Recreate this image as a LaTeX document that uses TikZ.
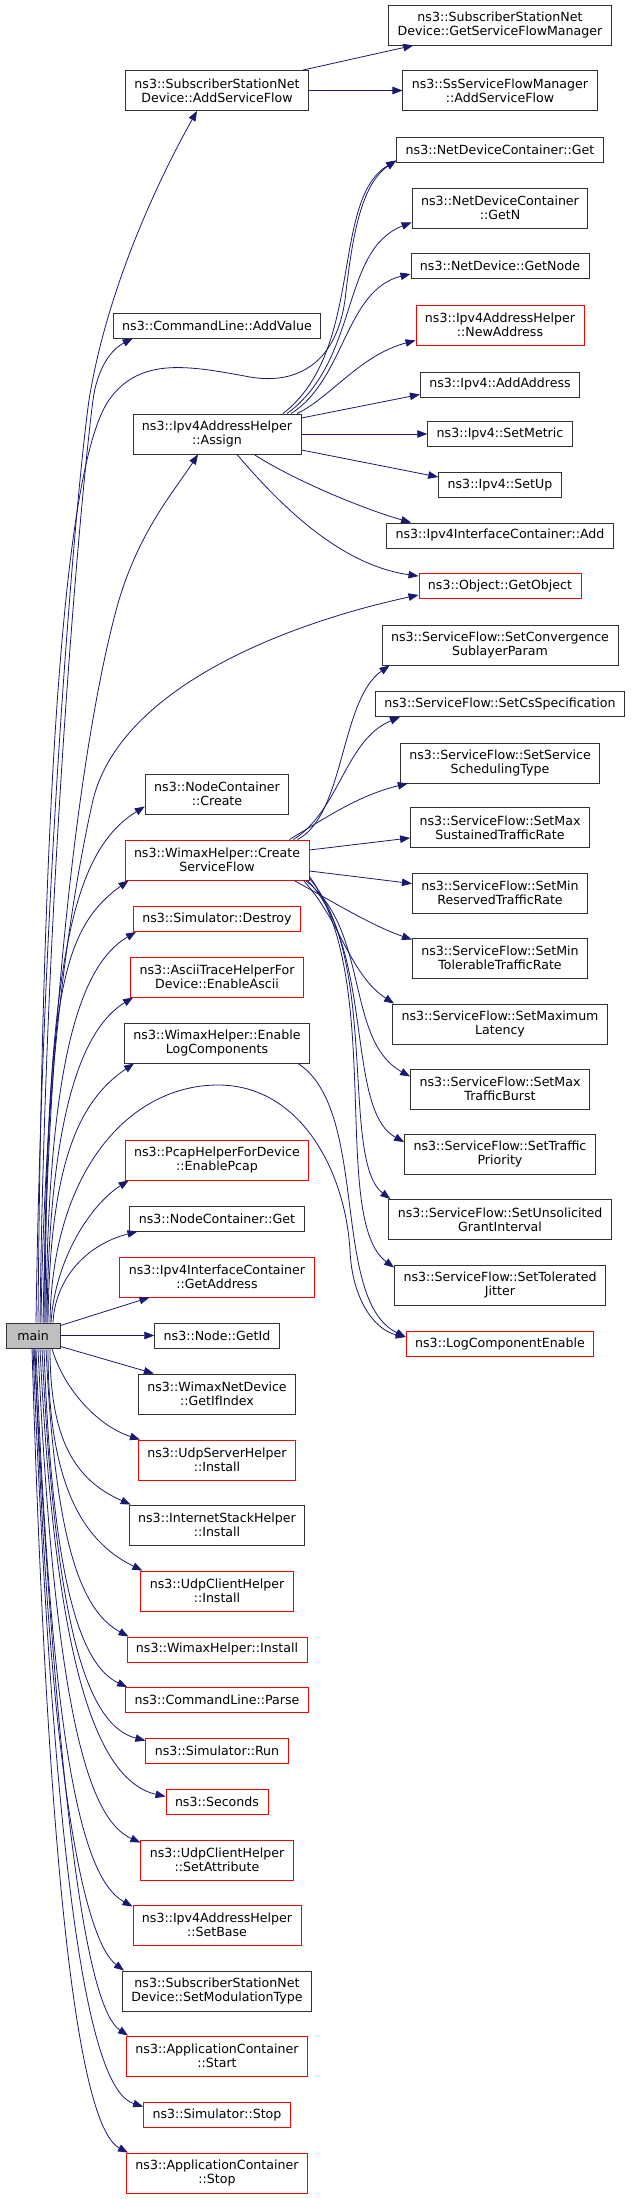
\documentclass[tikz,border=0pt]{standalone}
\usepackage{fontspec}
\newfontfamily\dejavu{DejaVu Sans}
\usetikzlibrary{arrows.meta}
\definecolor{edgeblue}{HTML}{191970}
\newcommand{\fnfont}{\dejavu\fontsize{12.6pt}{14pt}\selectfont}
\tikzset{
  fn/.style={draw=black!80, line width=0.9pt, fill=white, align=center,
    inner xsep=9pt, inner ysep=4pt, minimum height=25pt, font=\fnfont},
  fnred/.style={fn, draw=red},
  twoline/.style={minimum height=40pt},
  call/.style={draw=edgeblue, line width=0.8pt, -{Triangle[length=10pt,width=7.5pt]}},
}
\begin{document}
\begin{tikzpicture}[x=1pt, y=-1pt]
  \useasboundingbox (0,0) rectangle (632,2199);

  % Define nodes
  \node[fn, fill=black!25, minimum width=54pt] (main) at (33,1335.5) {main};

  \node[fn, twoline] (ssadd) at (217,90.5) {ns3::SubscriberStationNet\\Device::AddServiceFlow};
  \node[fn] (addvalue) at (217,325.5) {ns3::CommandLine::AddValue};
  \node[fn, twoline] (assign) at (217,434) {ns3::Ipv4AddressHelper\\::Assign};
  \node[fn, twoline] (nccreate) at (217,794) {ns3::NodeContainer\\::Create};
  \node[fnred, twoline] (createsf) at (217,860) {ns3::WimaxHelper::Create\\ServiceFlow};
  \node[fnred] (destroy) at (217,919) {ns3::Simulator::Destroy};
  \node[fnred, twoline] (ascii) at (217,977) {ns3::AsciiTraceHelperFor\\Device::EnableAscii};
  \node[fn, twoline] (enablelog) at (217,1043) {ns3::WimaxHelper::Enable\\LogComponents};
  \node[fnred, twoline] (pcap) at (217,1160) {ns3::PcapHelperForDevice\\::EnablePcap};
  \node[fn] (ncget) at (217,1218.5) {ns3::NodeContainer::Get};
  \node[fnred, twoline] (getaddr) at (217,1277) {ns3::Ipv4InterfaceContainer\\::GetAddress};
  \node[fn] (getid) at (217,1335.5) {ns3::Node::GetId};
  \node[fn, twoline] (getifindex) at (217,1394) {ns3::WimaxNetDevice\\::GetIfIndex};
  \node[fnred, twoline] (udpserver) at (217,1460) {ns3::UdpServerHelper\\::Install};
  \node[fn, twoline] (inetstack) at (217,1525) {ns3::InternetStackHelper\\::Install};
  \node[fnred, twoline] (udpclient) at (217,1591) {ns3::UdpClientHelper\\::Install};
  \node[fnred] (wimaxinstall) at (217,1649.5) {ns3::WimaxHelper::Install};
  \node[fnred] (parse) at (217,1700) {ns3::CommandLine::Parse};
  \node[fnred] (run) at (217,1750.5) {ns3::Simulator::Run};
  \node[fnred] (seconds) at (217,1801.5) {ns3::Seconds};
  \node[fnred, twoline] (setattr) at (217,1860) {ns3::UdpClientHelper\\::SetAttribute};
  \node[fnred, twoline] (setbase) at (217,1925) {ns3::Ipv4AddressHelper\\::SetBase};
  \node[fn, twoline] (setmod) at (217,1991) {ns3::SubscriberStationNet\\Device::SetModulationType};
  \node[fnred, twoline] (appstart) at (217,2056) {ns3::ApplicationContainer\\::Start};
  \node[fnred] (simstop) at (217,2114.5) {ns3::Simulator::Stop};
  \node[fnred, twoline] (appstop) at (217,2173) {ns3::ApplicationContainer\\::Stop};

  \node[fn, twoline] (gsfm) at (500,25) {ns3::SubscriberStationNet\\Device::GetServiceFlowManager};
  \node[fn, twoline] (ssfm) at (500,90.5) {ns3::SsServiceFlowManager\\::AddServiceFlow};
  \node[fn] (ndcget) at (500,149.5) {ns3::NetDeviceContainer::Get};
  \node[fn, twoline] (ndcgetn) at (500,208) {ns3::NetDeviceContainer\\::GetN};
  \node[fn] (getnode) at (500,266) {ns3::NetDevice::GetNode};
  \node[fnred, twoline] (newaddr) at (500,325) {ns3::Ipv4AddressHelper\\::NewAddress};
  \node[fn] (addaddr) at (500,384.5) {ns3::Ipv4::AddAddress};
  \node[fn] (setmetric) at (500,434) {ns3::Ipv4::SetMetric};
  \node[fn] (setup) at (500,485) {ns3::Ipv4::SetUp};
  \node[fn] (ifcadd) at (500,535.5) {ns3::Ipv4InterfaceContainer::Add};
  \node[fnred] (getobject) at (500,586) {ns3::Object::GetObject};
  \node[fn, twoline] (setconv) at (500,645) {ns3::ServiceFlow::SetConvergence\\SublayerParam};
  \node[fn] (setcs) at (500,704) {ns3::ServiceFlow::SetCsSpecification};
  \node[fn, twoline] (setsched) at (500,763) {ns3::ServiceFlow::SetService\\SchedulingType};
  \node[fn, twoline] (setmaxsus) at (500,827.5) {ns3::ServiceFlow::SetMax\\SustainedTrafficRate};
  \node[fn, twoline] (setminres) at (500,893) {ns3::ServiceFlow::SetMin\\ReservedTrafficRate};
  \node[fn, twoline] (setmintol) at (500,958) {ns3::ServiceFlow::SetMin\\TolerableTrafficRate};
  \node[fn, twoline] (setmaxlat) at (500,1024) {ns3::ServiceFlow::SetMaximum\\Latency};
  \node[fn, twoline] (setmaxburst) at (500,1089) {ns3::ServiceFlow::SetMax\\TrafficBurst};
  \node[fn, twoline] (setprio) at (500,1154.5) {ns3::ServiceFlow::SetTraffic\\Priority};
  \node[fn, twoline] (setugi) at (500,1219.5) {ns3::ServiceFlow::SetUnsolicited\\GrantInterval};
  \node[fn, twoline] (setjitter) at (500,1285) {ns3::ServiceFlow::SetTolerated\\Jitter};
  \node[fnred] (logenable) at (500,1344) {ns3::LogComponentEnable};

  % Draw edges: main upwards
  \draw[call] ([xshift=3pt]main.north) .. controls (42,900) and (75,500) .. (89,400)
    .. controls (110,270) and (175,150) .. ([xshift=-20pt]ssadd.south);
  \draw[call] ([xshift=5pt]main.north) .. controls (42,850) and (60,470) .. (109,400)
    .. controls (140,356) and (190,366) .. (250,377)
    .. controls (290,384) and (335,370) .. (345,300)
    .. controls (352,240) and (360,185) .. ([yshift=2pt]ndcget.south west);
  \draw[call] ([xshift=7pt]main.north) .. controls (45,900) and (80,500) .. (93,400)
    .. controls (97,370) and (110,350) .. ([xshift=20pt]addvalue.south west);
  \draw[call] ([xshift=8pt]main.north) .. controls (45,1050) and (75,880) .. (93,800)
    .. controls (120,690) and (280,625) .. ([yshift=4pt]getobject.south west);
  \draw[call] ([xshift=10pt]main.north) .. controls (50,950) and (90,700) .. (119,600)
    .. controls (140,530) and (175,490) .. ([xshift=-19pt]assign.south);
  \draw[call] ([xshift=11pt]main.north) .. controls (46,950) and (75,850) .. ([yshift=8pt]nccreate.south west);
  \draw[call] ([xshift=12pt]main.north) .. controls (47,1000) and (60,930) .. ([xshift=4pt]createsf.south west);
  \draw[call] ([xshift=13pt]main.north) .. controls (48,1060) and (80,965) .. ([xshift=3pt]destroy.south west);
  \draw[call] ([xshift=14pt]main.north) .. controls (49,1120) and (80,1030) .. ([xshift=3pt]ascii.south west);
  \draw[call] ([xshift=15pt]main.north) .. controls (50,1160) and (80,1100) .. ([xshift=10pt]enablelog.south west);
  \draw[call] ([xshift=17pt]main.north) .. controls (52,1170) and (130,1085) .. (218,1085)
    .. controls (300,1085) and (345,1170) .. (350,1250)
    .. controls (352,1300) and (375,1330) .. ([yshift=-6pt]logenable.north west);
  \draw[call] ([xshift=18pt]main.north) .. controls (55,1260) and (90,1205) .. ([xshift=4pt]pcap.south west);
  \draw[call] ([xshift=20pt]main.north) .. controls (55,1280) and (85,1245) .. ([xshift=8pt]ncget.south west);
  \draw[call] ([yshift=-3pt]main.north east) -- ([xshift=30pt]getaddr.south west);
  \draw[call] (main) -- (getid);
  \draw[call] ([yshift=2pt]main.south east) -- ([xshift=16pt]getifindex.north west);

  % main downwards
  \draw[call] ([xshift=19pt]main.south) .. controls (62,1385) and (95,1425) .. ([xshift=2pt]udpserver.north west);
  \draw[call] ([xshift=17pt]main.south) .. controls (50,1440) and (75,1480) .. ([xshift=2pt]inetstack.north west);
  \draw[call] ([xshift=15pt]main.south) .. controls (48,1480) and (80,1540) .. ([xshift=2pt]udpclient.north west);
  \draw[call] ([xshift=13pt]main.south) .. controls (55,1540) and (80,1610) .. ([xshift=2pt]wimaxinstall.north west);
  \draw[call] ([xshift=11pt]main.south) .. controls (52,1580) and (80,1665) .. ([xshift=2pt]parse.north west);
  \draw[call] ([xshift=9pt]main.south) .. controls (55,1620) and (85,1725) .. ([yshift=-3pt]run.north west);
  \draw[call] ([xshift=7pt]main.south) .. controls (55,1660) and (95,1780) .. ([yshift=-8pt]seconds.north west);
  \draw[call] ([xshift=5pt]main.south) .. controls (55,1720) and (90,1820) .. ([yshift=-3pt]setattr.north west);
  \draw[call] ([xshift=3pt]main.south) .. controls (52,1770) and (85,1880) .. ([yshift=-2pt]setbase.north west);
  \draw[call] ([xshift=2pt]main.south) .. controls (50,1820) and (90,1945) .. ([xshift=2pt]setmod.north west);
  \draw[call] ([xshift=1pt]main.south) .. controls (60,1850) and (90,2010) .. ([xshift=2pt]appstart.north west);
  \draw[call] (main.south) .. controls (55,1900) and (90,2090) .. ([yshift=-5pt]simstop.north west);
  \draw[call] ([xshift=-1pt]main.south) .. controls (50,1950) and (85,2130) .. ([xshift=2pt]appstop.north west);

  % SubscriberStationNetDevice::AddServiceFlow
  \draw[call] ([xshift=-6pt]ssadd.north east) -- ([xshift=25pt]gsfm.south west);
  \draw[call] (ssadd) -- (ssfm);

  % Ipv4AddressHelper::Assign
  \draw[call] ([xshift=66pt]assign.north) .. controls (365,350) and (330,200) .. ([yshift=2pt]ndcget.south west);
  \draw[call] ([xshift=70pt]assign.north) .. controls (360,360) and (340,250) .. ([yshift=6pt]ndcgetn.south west);
  \draw[call] ([xshift=74pt]assign.north) .. controls (345,380) and (345,290) .. ([yshift=5pt]getnode.south west);
  \draw[call] ([xshift=80pt]assign.north) .. controls (330,398) and (360,355) .. ([yshift=5pt]newaddr.south west);
  \draw[call] ([yshift=16pt]assign.east) -- ([yshift=3pt]addaddr.south west);
  \draw[call] (assign) -- (setmetric);
  \draw[call] ([yshift=-16pt]assign.east) -- ([yshift=8pt]setup.west);
  \draw[call] ([xshift=37pt]assign.south) .. controls (290,478) and (360,508) .. ([xshift=25pt]ifcadd.north west);
  \draw[call] ([xshift=20pt]assign.south) .. controls (280,505) and (340,565) .. ([yshift=-3pt]getobject.north west);

  % WimaxHelper::CreateServiceFlow
  \draw[call] ([xshift=-12pt]createsf.north east) .. controls (345,815) and (340,700) .. ([xshift=8pt]setconv.south west);
  \draw[call] ([xshift=-16pt]createsf.north east) .. controls (340,810) and (345,740) .. ([xshift=25pt]setcs.south west);
  \draw[call] ([xshift=-20pt]createsf.north east) .. controls (330,815) and (360,795) .. ([xshift=8pt]setsched.south west);
  \draw[call] ([yshift=10pt]createsf.east) -- ([yshift=10pt]setmaxsus.south west);
  \draw[call] ([yshift=-11pt]createsf.east) -- ([yshift=-11pt]setminres.north west);
  \draw[call] ([xshift=77pt]createsf.south) .. controls (330,900) and (370,925) .. ([yshift=-2pt]setmintol.north west);
  \draw[call] ([xshift=-6pt]createsf.south east) .. controls (340,920) and (350,975) .. ([xshift=2pt]setmaxlat.north west);
  \draw[call] ([xshift=-4pt]createsf.south east) .. controls (370,930) and (345,1040) .. ([yshift=-8pt]setmaxburst.north west);
  \draw[call] ([xshift=-2pt]createsf.south east) .. controls (375,950) and (345,1110) .. ([yshift=-8pt]setprio.north west);
  \draw[call] ([yshift=2pt]createsf.south east) .. controls (380,960) and (340,1160) .. ([xshift=2pt]setugi.north west);
  \draw[call] ([yshift=4pt]createsf.south east) .. controls (385,980) and (330,1220) .. ([yshift=-3pt]setjitter.north west);

  % WimaxHelper::EnableLogComponents
  \draw[call] ([xshift=-12pt]enablelog.south east) .. controls (370,1110) and (330,1300) .. ([yshift=-6pt]logenable.north west);
\end{tikzpicture}
\end{document}
